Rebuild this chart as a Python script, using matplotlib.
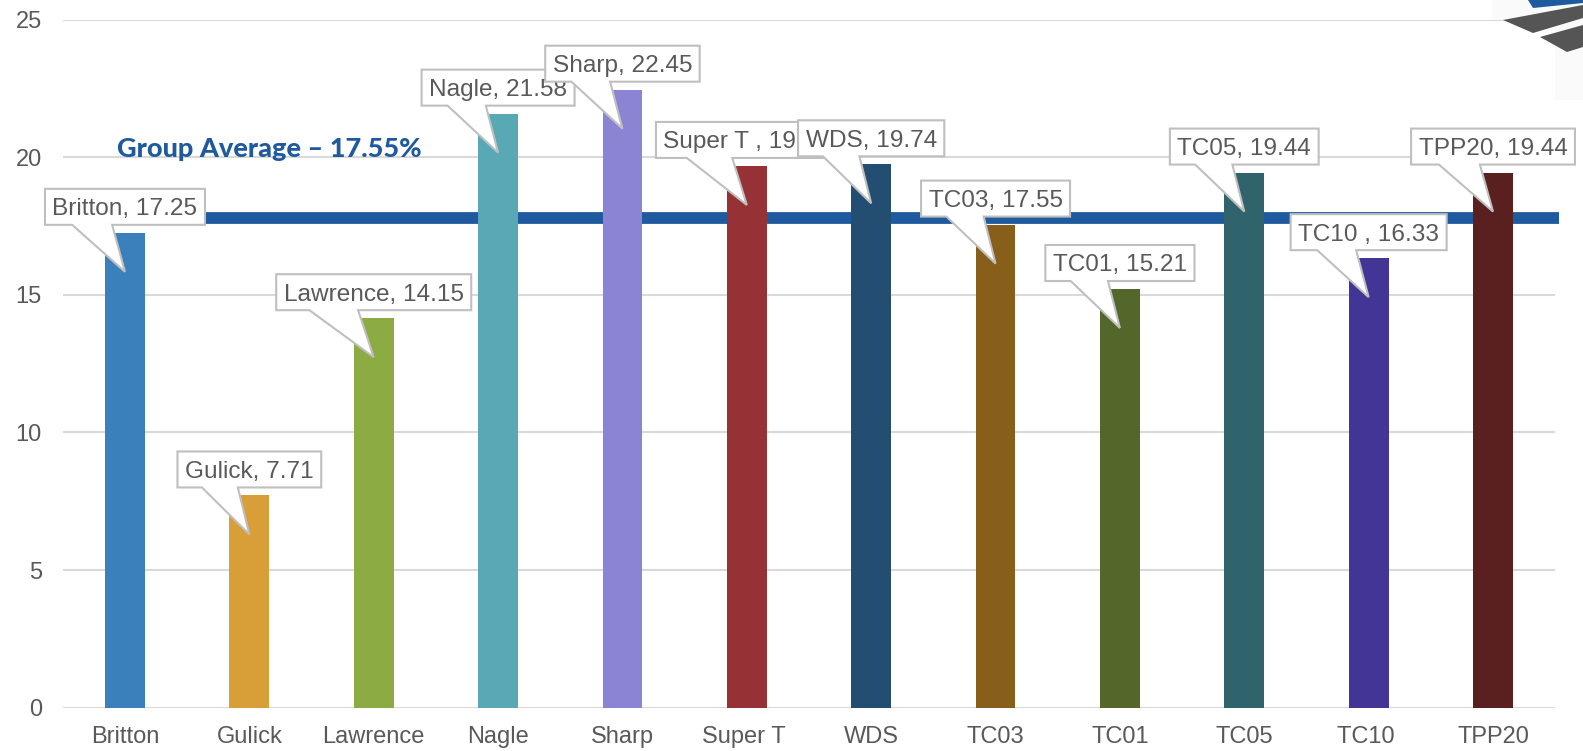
import matplotlib
matplotlib.use('Agg')
import matplotlib.pyplot as plt
import matplotlib.transforms as mtransforms
from matplotlib.patches import Polygon, Rectangle

# data
categories = ['Britton', 'Gulick', 'Lawrence', 'Nagle', 'Sharp', 'Super T ',
              'WDS', 'TC03', 'TC01', 'TC05', 'TC10 ', 'TPP20']
values = [17.25, 7.71, 14.15, 21.58, 22.45, 19.68,
          19.74, 17.55, 15.21, 19.44, 16.33, 19.44]
avg_label = 17.55
avg_line = 17.8
yticks = [0, 5, 10, 15, 20, 25]

colors = ['#3A80BB', '#D89E38', '#8CAB42', '#59A8B5', '#8B84D4', '#963236',
          '#234E72', '#885E1B', '#526729', '#30646D', '#423595', '#5A2020']

grey_txt = '#595959'
grid_c = '#D9D9D9'
blue = '#1F5A9E'

plt.rcParams['font.family'] = ['Liberation Sans', 'DejaVu Sans']

W, H = 1583, 751
fig = plt.figure(figsize=(W / 100, H / 100), dpi=100)
ax = fig.add_axes([62.8 / W, (H - 707.7) / H, 1492.4 / W, (707.7 - 19.5) / H])

x = range(len(categories))
ax.bar(x, values, width=0.32, color=colors, zorder=3)

# average line (drawn under the bars)
ax.plot([-0.2, 11.53], [avg_line, avg_line], color=blue, lw=8.5,
        solid_capstyle='butt', zorder=2, clip_on=False)
ax.text(-0.067, 20.0, 'Group Average \u2013 %.2f%%' % avg_label,
        color=blue, fontsize=19.5, fontweight='black', family=['Lato', 'DejaVu Sans'],
        ha='left', va='baseline', zorder=4)

ax.set_xlim(-0.5, 11.5)
ax.set_ylim(0, 25)
ax.set_yticks(yticks)
ax.set_xticks(list(x))
ax.set_xticklabels(categories)
ax.tick_params(axis='both', length=0, labelsize=17, labelcolor=grey_txt)
ax.tick_params(axis='y', pad=15)
ax.tick_params(axis='x', pad=13.5)
ax.set_axisbelow(True)
ax.grid(axis='y', color=grid_c, lw=1.5)
for s in ax.spines.values():
    s.set_visible(False)

# callouts
texts = []
for i, v in enumerate(values):
    lbl = '%s, %.2f' % (categories[i], v)
    t = ax.annotate(lbl, xy=(i, v), xytext=(0, 17.5), textcoords='offset pixels',
                    ha='center', va='baseline', fontsize=17.6, color=grey_txt,
                    zorder=11 + 2 * i, annotation_clip=False)
    texts.append(t)

fig.canvas.draw()
rend = fig.canvas.get_renderer()
for i, v in enumerate(values):
    w = texts[i].get_window_extent(rend).width
    hw = w / 2 + 7.5
    L, R, B, T = -hw, hw, 8, 44
    bl = L + 0.17 * 2 * hw
    br = L + 0.42 * 2 * hw
    verts = [(L, B), (bl, B), (0, -39), (br, B), (R, B), (R, T), (L, T)]
    tr = mtransforms.Affine2D() + mtransforms.ScaledTranslation(i, v, ax.transData)
    poly = Polygon(verts, closed=True, facecolor='white', edgecolor='#BFBFBF',
                   lw=1.5, transform=tr, zorder=10 + 2 * i, clip_on=False)
    ax.add_patch(poly)

# logo corner
def px(pts):
    return [(a / W, 1 - b / H) for a, b in pts]

fig.patches.append(Rectangle((1492 / W, 1 - 100 / H), 91 / W, 100 / H,
                             transform=fig.transFigure, facecolor='#FAFAFA',
                             edgecolor='none', zorder=-1))
fig.patches.append(Polygon(px([(1528, 0), (1583, 0), (1583, 3), (1533, 8)]),
                           transform=fig.transFigure, facecolor='#1E5AA0',
                           edgecolor='none'))
fig.patches.append(Polygon(px([(1503, 20), (1583, 5), (1583, 18), (1533, 33)]),
                           transform=fig.transFigure, facecolor='#555555',
                           edgecolor='none'))
fig.patches.append(Polygon(px([(1540, 37), (1583, 25), (1583, 47), (1567, 52)]),
                           transform=fig.transFigure, facecolor='#555555',
                           edgecolor='none'))

fig.savefig('out.png', dpi=100)
